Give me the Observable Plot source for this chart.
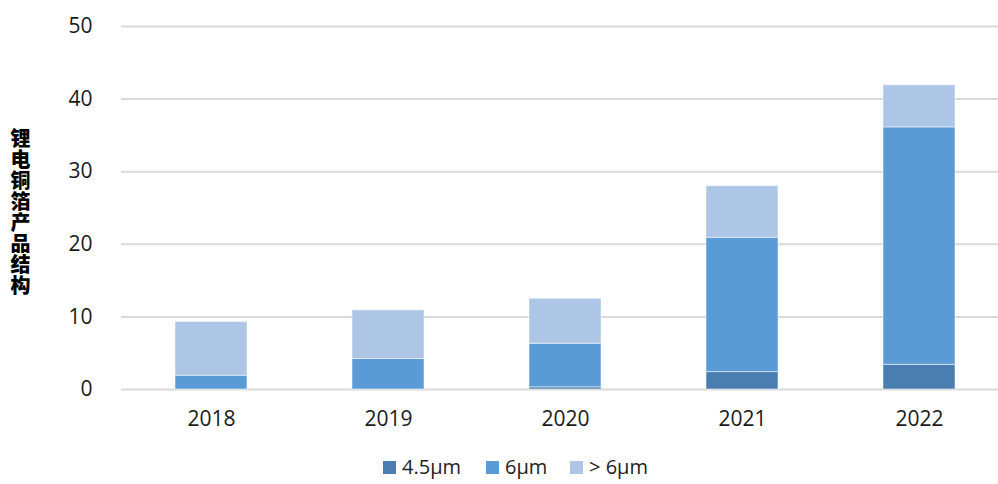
<!DOCTYPE html>
<html>
<head>
<meta charset="utf-8">
<script src="https://cdn.jsdelivr.net/npm/d3@7"></script>
<script src="https://cdn.jsdelivr.net/npm/@observablehq/plot@0.6"></script>
<style>
  html, body { margin: 0; padding: 0; background: #fff; overflow: hidden; }
  body { width: 998px; height: 484px; position: relative; font-family: "Open Sans", "Noto Sans CJK SC", sans-serif; }
  #chart { position: absolute; left: 0; top: 0; }
  #ylabel { position: absolute; left: 10px; top: 128px; writing-mode: vertical-rl; text-orientation: upright;
    font-family: "Noto Sans CJK SC", sans-serif; font-weight: 900; font-size: 20px; color: #000; letter-spacing: 1px; line-height: 1; }
  #legend { position: absolute; top: 456px; left: 0; width: 998px; font-size: 20px; color: #222; line-height: 22px; }
  .item { position: absolute; display: flex; align-items: center; white-space: nowrap; height: 22px; }
  .sw { width: 13px; height: 13px; margin-right: 6px; display: inline-block; }
  .lt { display: inline-block; line-height: 22px; height: 22px; }
</style>
</head>
<body>
<div id="chart"></div>
<div id="ylabel">锂电铜箔产品结构</div>
<div id="legend"></div>
<script>
const years = ["2018", "2019", "2020", "2021", "2022"];
const seriesNames = ["4.5μm", "6μm", "> 6μm"];
const s45 = [0, 0, 0.3, 2.4, 3.4];
const s6 = [1.9, 4.2, 6.0, 18.5, 32.7];
const sGt6 = [7.4, 6.7, 6.2, 7.1, 5.8];
const yTicks = [0, 10, 20, 30, 40, 50];
const colors = ["#4a7eb0", "#5b9bd5", "#adc6e5"];

const seriesValues = [s45, s6, sGt6];
const data = [];
seriesNames.forEach((s, i) => years.forEach((y, j) => data.push({year: y, series: s, value: seriesValues[i][j]})));

const chart = Plot.plot({
  width: 998,
  height: 440,
  marginLeft: 121,
  marginRight: 0,
  marginTop: 26,
  marginBottom: 51,
  style: {fontFamily: "'Open Sans', 'Noto Sans CJK SC', sans-serif", fontSize: "21px", color: "#222", background: "#fff", overflow: "visible"},
  x: {domain: years, range: [121, 1008], paddingInner: 0.595, paddingOuter: 0.2975, label: null},
  y: {domain: [0, 50], label: null},
  color: {domain: seriesNames, range: colors},
  marks: [
    Plot.ruleY(yTicks, {stroke: "#d9d9d9", strokeWidth: 2}),
    Plot.barY(data, {x: "year", y: "value", fill: "series", stroke: "#ffffff", strokeOpacity: 0.5, strokeWidth: 1}),
    Plot.axisY(yTicks, {tickSize: 0, tickPadding: 29, fontSize: 21, fill: "#1a1a1a", label: null}),
    Plot.axisX({tickSize: 0, tickPadding: 22, fontSize: 21, fill: "#1a1a1a", label: null})
  ]
});
document.getElementById("chart").appendChild(chart);

const legendPos = [383, 486, 570];
const legend = document.getElementById("legend");
seriesNames.forEach((s, i) => {
  const it = document.createElement("div");
  it.className = "item";
  it.style.left = legendPos[i] + "px";
  it.innerHTML = `<span class="sw" style="background:${colors[i]}"></span><span class="lt">${s}</span>`;
  legend.appendChild(it);
});
</script>
</body>
</html>
